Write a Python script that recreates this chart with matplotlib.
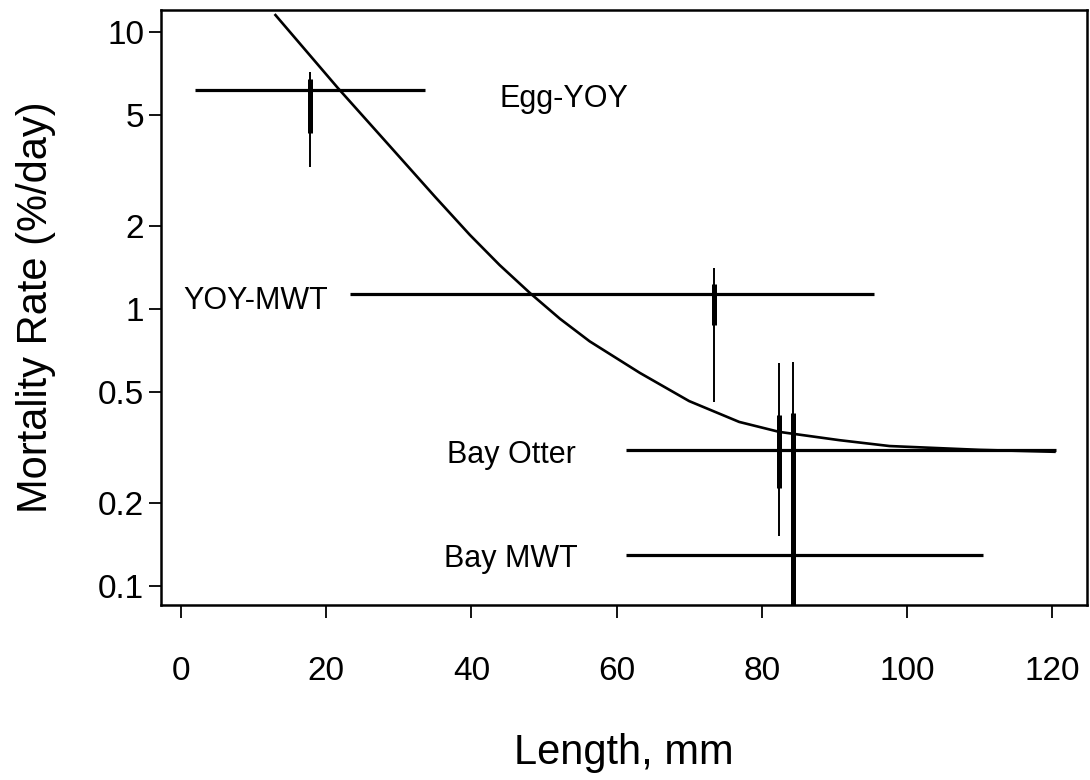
import matplotlib
matplotlib.use('Agg')
import matplotlib.pyplot as plt
from matplotlib.ticker import FixedLocator, FixedFormatter, NullLocator

plt.rcParams['font.family'] = ['Liberation Sans', 'DejaVu Sans']

# Curva ajustada de mortalidad frente a longitud
curva_long = [12.9, 21.6, 29.2, 35.0, 39.8, 43.9, 48.1, 52.2, 56.3, 63.2,
              70.0, 76.9, 82.4, 90.7, 97.6, 110.0, 120.5]
curva_mort = [11.6, 6.28, 3.76, 2.54, 1.85, 1.44, 1.14, 0.922, 0.764, 0.588,
              0.465, 0.391, 0.360, 0.336, 0.320, 0.310, 0.305]

# Periodos: rango de longitudes (horizontal) y tasa de mortalidad
nombres = ['Egg-YOY', 'YOY-MWT', 'Bay Otter', 'Bay MWT']
rango_ini = [1.9, 23.3, 61.3, 61.3]
rango_fin = [33.6, 95.5, 120.5, 110.5]
rango_mort = [6.18, 1.13, 0.31, 0.129]
# Intervalos de la tasa (vertical): linea fina y tramo grueso
ic_long = [17.8, 73.4, 82.4, 84.3]
ic_bajo = [3.26, 0.46, 0.152, 0.08]
ic_alto = [7.17, 1.41, 0.638, 0.643]
ic2_bajo = [4.31, 0.875, 0.226, 0.08]
ic2_alto = [6.76, 1.23, 0.414, 0.42]
# Posicion de los rotulos
rot_x = [43.9, 0.3, 36.6, 36.3]
rot_y = [5.72, 1.065, 0.297, 0.125]

xticks = [0, 20, 40, 60, 80, 100, 120]
yticks = [0.1, 0.2, 0.5, 1, 2, 5, 10]
yticklabels = ['0.1', '0.2', '0.5', '1', '2', '5', '10']

fig = plt.figure(figsize=(10.9, 7.8), dpi=100)
fig.set_facecolor('w')
ax = fig.add_axes([0.1477, 0.2244, 0.8495, 0.7628])
ax.set_yscale('log')

# Curva
ax.plot(curva_long, curva_mort, 'k-', linewidth=1.9, solid_capstyle='butt')

# Rangos e intervalos
for i in range(len(nombres)):
    ax.plot([rango_ini[i], rango_fin[i]], [rango_mort[i], rango_mort[i]],
             'k-', linewidth=2.3, solid_capstyle='butt')
    ax.plot([ic_long[i], ic_long[i]], [ic_bajo[i], ic_alto[i]],
             'k-', linewidth=1.4, solid_capstyle='butt')
    ax.plot([ic_long[i], ic_long[i]], [ic2_bajo[i], ic2_alto[i]],
             'k-', linewidth=3.6, solid_capstyle='butt')
    ax.text(rot_x[i], rot_y[i], nombres[i], fontsize=22,
            ha='left', va='center')

# Ejes
ax.set_xlim(-2.75, 124.8)
ax.set_ylim(0.0854, 12.0)
ax.xaxis.set_major_locator(FixedLocator(xticks))
ax.yaxis.set_major_locator(FixedLocator(yticks))
ax.yaxis.set_major_formatter(FixedFormatter(yticklabels))
ax.yaxis.set_minor_locator(NullLocator())
ax.tick_params(axis='x', direction='out', length=9, width=1.3,
               labelsize=24, pad=28)
ax.tick_params(axis='y', direction='out', length=9, width=1.3,
               labelsize=24, pad=3)
for s in ax.spines.values():
    s.set_linewidth(1.8)

ax.set_xlabel('Length, mm', fontsize=30, labelpad=33)
ax.set_ylabel('Mortality Rate (%/day)', fontsize=30, labelpad=30)

fig.savefig('out.png', dpi=100)
